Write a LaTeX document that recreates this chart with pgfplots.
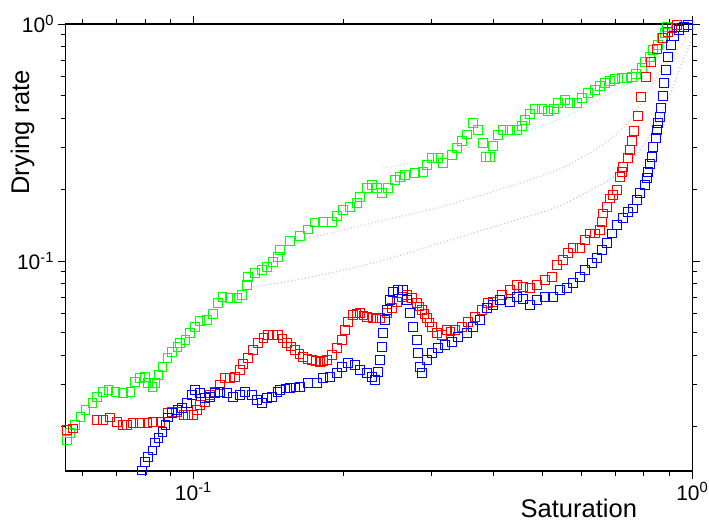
\documentclass[border=0pt]{standalone}
\usepackage{fontspec}
\setmainfont{Liberation Sans}
\usepackage{pgfplots}
\pgfplotsset{compat=1.18}
\definecolor{og}{RGB}{0,255,0}
\definecolor{orr}{RGB}{255,0,0}
\definecolor{ob}{RGB}{0,0,255}
\definecolor{lg}{RGB}{170,245,170}
\definecolor{lr}{RGB}{255,180,180}
\definecolor{lb}{RGB}{185,185,255}
\begin{document}
\begin{tikzpicture}
\useasboundingbox (0,0) rectangle (709pt,527pt);
\begin{axis}[
  at={(65.5pt,56pt)}, anchor=south west,
  scale only axis, width=626.8pt, height=447pt,
  xmode=log, ymode=log,
  xmin=0.0554, xmax=1, ymin=0.013, ymax=1,
  xtick={0.1,1}, xticklabels={10\textsuperscript{-1},10\textsuperscript{0}},
  ytick={0.1,1}, yticklabels={10\textsuperscript{-1},10\textsuperscript{0}},
  minor xtick={0.06,0.07,0.08,0.09,0.2,0.3,0.4,0.5,0.6,0.7,0.8,0.9},
  minor ytick={0.02,0.03,0.04,0.05,0.06,0.07,0.08,0.09,0.2,0.3,0.4,0.5,0.6,0.7,0.8,0.9},
  tick align=outside,
  major tick length=8pt, minor tick length=5pt,
  axis line style={line width=1.3pt},
  every tick/.style={black, line width=1pt},
  tick label style={font=\fontsize{21}{21}\selectfont},
  xlabel={Saturation}, ylabel={Drying rate},
  label style={font=\fontsize{25.5}{26}\selectfont},
  xlabel style={at={(axis description cs:0.819,-0.105)}, anchor=base},
  ylabel style={at={(axis description cs:-0.058,0.758)}, anchor=base},
  clip=true,
]
% dotted guide curves
\addplot[no marks, smooth, color=lg, line width=1.1pt, dash pattern=on 1pt off 2.5pt] coordinates {
(0.2400,0.247)(0.2940,0.267)(0.3423,0.294)(0.4253,0.334)(0.4953,0.368)(0.5767,0.421)(0.6747,0.502)(0.7856,0.598)(0.8341,0.685)(0.8616,0.740)};
\addplot[no marks, smooth, color=lr, line width=1.1pt, dash pattern=on 1pt off 2.5pt] coordinates {
(0.1713,0.125)(0.2292,0.145)(0.3122,0.169)(0.4253,0.205)(0.5357,0.242)(0.6237,0.286)(0.6936,0.334)(0.7502,0.393)(0.8114,0.511)(0.8736,0.659)(0.9581,0.831)(0.9685,0.916)};
\addplot[no marks, smooth, color=lb, line width=1.1pt, dash pattern=on 1pt off 2.5pt] coordinates {
(0.1317,0.0777)(0.1690,0.0848)(0.2292,0.0981)(0.3122,0.119)(0.4253,0.145)(0.5357,0.169)(0.6237,0.199)(0.6936,0.226)(0.7856,0.294)(0.8616,0.405)(0.9147,0.542)(0.9581,0.705)(0.9986,0.856)};
% green
\addplot[only marks, mark=square, mark size=4.2pt, color=og, line width=1pt] coordinates {
(0.0558,0.0176)(0.0566,0.0188)(0.0579,0.0203)(0.0593,0.0220)(0.0607,0.0235)(0.0627,0.0252)(0.0641,0.0267)(0.0659,0.0280)(0.0675,0.0286)(0.0697,0.0280)(0.0723,0.0277)(0.0747,0.0280)(0.0764,0.0309)(0.0782,0.0321)(0.0800,0.0324)(0.0811,0.0306)(0.0827,0.0294)(0.0838,0.0306)(0.0850,0.0330)(0.0866,0.0357)(0.0886,0.0390)(0.0906,0.0413)(0.0928,0.0434)(0.0940,0.0451)(0.0963,0.0464)(0.0985,0.0497)(0.1008,0.0527)(0.1031,0.0558)(0.1065,0.0564)(0.1095,0.0598)(0.1121,0.0665)(0.1142,0.0705)(0.1184,0.0698)(0.1223,0.0698)(0.1252,0.0719)(0.1281,0.0792)(0.1287,0.0856)(0.1329,0.0890)(0.1373,0.0916)(0.1405,0.0943)(0.1444,0.0990)(0.1478,0.1040)(0.1492,0.1113)(0.1562,0.1214)(0.1636,0.1275)(0.1698,0.136)(0.1754,0.145)(0.1820,0.146)(0.1897,0.146)(0.1941,0.155)(0.1995,0.164)(0.2061,0.169)(0.2128,0.176)(0.2158,0.186)(0.2229,0.203)(0.2281,0.209)(0.2334,0.203)(0.2389,0.194)(0.2456,0.203)(0.2536,0.220)(0.2595,0.226)(0.2656,0.231)(0.2782,0.235)(0.2886,0.237)(0.2940,0.254)(0.3009,0.272)(0.3093,0.272)(0.3165,0.259)(0.3299,0.280)(0.3377,0.300)(0.3455,0.321)(0.3536,0.341)(0.3635,0.382)(0.3720,0.357)(0.3807,0.315)(0.3860,0.275)(0.3931,0.275)(0.3986,0.306)(0.4079,0.340)(0.4174,0.357)(0.4312,0.357)(0.4453,0.357)(0.4557,0.371)(0.4620,0.393)(0.4728,0.417)(0.4839,0.438)(0.4997,0.438)(0.5137,0.430)(0.5281,0.438)(0.5380,0.464)(0.5558,0.478)(0.5687,0.464)(0.5874,0.464)(0.6012,0.487)(0.6180,0.511)(0.6383,0.527)(0.6531,0.548)(0.6684,0.564)(0.6841,0.575)(0.7000,0.586)(0.7230,0.592)(0.7398,0.592)(0.7572,0.598)(0.7713,0.615)(0.7929,0.652)(0.8040,0.691)(0.8227,0.726)(0.8341,0.777)(0.8536,0.815)(0.8695,0.873)(0.8816,0.916)(0.8898,0.971)(0.9021,1.010)};
% red
\addplot[only marks, mark=square, mark size=4.2pt, color=orr, line width=1pt] coordinates {
(0.0558,0.0194)(0.0574,0.0197)(0.0641,0.0213)(0.0659,0.0213)(0.0681,0.0218)(0.0703,0.0209)(0.0720,0.0203)(0.0736,0.0203)(0.0757,0.0207)(0.0782,0.0207)(0.0808,0.0207)(0.0830,0.0209)(0.0858,0.0209)(0.0886,0.0228)(0.0906,0.0231)(0.0928,0.0231)(0.0954,0.0224)(0.0976,0.0224)(0.0999,0.0224)(0.1017,0.0235)(0.1031,0.0247)(0.1055,0.0254)(0.1080,0.0272)(0.1105,0.0280)(0.1131,0.0300)(0.1157,0.0321)(0.1184,0.0321)(0.1212,0.0324)(0.1240,0.0347)(0.1258,0.0367)(0.1287,0.0390)(0.1317,0.0421)(0.1348,0.0451)(0.1380,0.0473)(0.1411,0.0487)(0.1444,0.0487)(0.1478,0.0487)(0.1510,0.0470)(0.1541,0.0451)(0.1570,0.0436)(0.1599,0.0421)(0.1630,0.0405)(0.1659,0.0393)(0.1695,0.0386)(0.1729,0.0382)(0.1760,0.0378)(0.1795,0.0375)(0.1825,0.0378)(0.1854,0.0382)(0.1897,0.0401)(0.1941,0.0430)(0.1986,0.0464)(0.2014,0.0511)(0.2042,0.0553)(0.2089,0.0592)(0.2120,0.0600)(0.2158,0.0603)(0.2195,0.0590)(0.2229,0.0580)(0.2292,0.0575)(0.2330,0.0573)(0.2367,0.0575)(0.2444,0.0603)(0.2501,0.0633)(0.2559,0.0671)(0.2619,0.0705)(0.2681,0.0719)(0.2743,0.0698)(0.2807,0.0665)(0.2840,0.0643)(0.2873,0.0621)(0.2905,0.0598)(0.2940,0.0575)(0.2975,0.0550)(0.3009,0.0527)(0.3079,0.0497)(0.3151,0.0487)(0.3224,0.0511)(0.3280,0.0505)(0.3345,0.0511)(0.3455,0.0527)(0.3552,0.0553)(0.3668,0.0580)(0.3789,0.0621)(0.3895,0.0665)(0.3986,0.0671)(0.4155,0.0719)(0.4312,0.0754)(0.4453,0.0792)(0.4580,0.0777)(0.4728,0.0769)(0.4884,0.0792)(0.5068,0.0832)(0.5235,0.0856)(0.5357,0.0962)(0.5507,0.1010)(0.5636,0.1081)(0.5767,0.1135)(0.5956,0.1135)(0.6095,0.1227)(0.6237,0.131)(0.6383,0.131)(0.6531,0.135)(0.6592,0.146)(0.6622,0.159)(0.6747,0.169)(0.6841,0.184)(0.6936,0.190)(0.7065,0.199)(0.7163,0.226)(0.7230,0.237)(0.7264,0.249)(0.7433,0.272)(0.7502,0.294)(0.7572,0.321)(0.7642,0.354)(0.7784,0.409)(0.7893,0.492)(0.8076,0.598)(0.8265,0.691)(0.8498,0.784)(0.8736,0.873)(0.8941,0.925)(0.9107,0.962)(0.9318,0.990)};
% blue
\addplot[only marks, mark=square, mark size=4.2pt, color=ob, line width=1pt] coordinates {
(0.0789,0.0131)(0.0800,0.0142)(0.0811,0.0149)(0.0827,0.0159)(0.0838,0.0171)(0.0850,0.0179)(0.0866,0.0190)(0.0878,0.0203)(0.0890,0.0218)(0.0906,0.0228)(0.0928,0.0235)(0.0949,0.0240)(0.0971,0.0252)(0.0994,0.0272)(0.1008,0.0286)(0.1031,0.0277)(0.1055,0.0264)(0.1080,0.0267)(0.1105,0.0277)(0.1131,0.0280)(0.1168,0.0277)(0.1201,0.0267)(0.1240,0.0272)(0.1269,0.0280)(0.1311,0.0272)(0.1342,0.0259)(0.1373,0.0252)(0.1405,0.0264)(0.1438,0.0267)(0.1472,0.0280)(0.1492,0.0286)(0.1530,0.0289)(0.1562,0.0291)(0.1600,0.0292)(0.1636,0.0294)(0.1698,0.0306)(0.1770,0.0306)(0.1820,0.0321)(0.1879,0.0324)(0.1941,0.0337)(0.1986,0.0357)(0.2042,0.0371)(0.2109,0.0364)(0.2158,0.0347)(0.2229,0.0337)(0.2281,0.0324)(0.2312,0.0315)(0.2345,0.0340)(0.2367,0.0382)(0.2389,0.0434)(0.2400,0.0497)(0.2422,0.0564)(0.2444,0.0621)(0.2478,0.0685)(0.2513,0.0740)(0.2572,0.0754)(0.2632,0.0754)(0.2681,0.0685)(0.2718,0.0603)(0.2756,0.0527)(0.2807,0.0464)(0.2820,0.0409)(0.2847,0.0357)(0.2873,0.0337)(0.2940,0.0382)(0.3009,0.0409)(0.3093,0.0430)(0.3195,0.0442)(0.3299,0.0455)(0.3392,0.0478)(0.3536,0.0497)(0.3635,0.0527)(0.3754,0.0564)(0.3877,0.0633)(0.3986,0.0652)(0.4117,0.0685)(0.4312,0.0671)(0.4453,0.0705)(0.4580,0.0691)(0.4728,0.0652)(0.4884,0.0685)(0.5068,0.0705)(0.5259,0.0705)(0.5431,0.0754)(0.5610,0.0769)(0.5767,0.0808)(0.5956,0.0856)(0.6095,0.0916)(0.6295,0.0981)(0.6442,0.1030)(0.6592,0.1113)(0.6747,0.119)(0.6904,0.131)(0.7065,0.142)(0.7264,0.152)(0.7433,0.161)(0.7607,0.167)(0.7749,0.181)(0.7856,0.194)(0.8040,0.209)(0.8114,0.224)(0.8152,0.237)(0.8227,0.257)(0.8303,0.275)(0.8341,0.303)(0.8457,0.330)(0.8498,0.357)(0.8536,0.382)(0.8616,0.405)(0.8656,0.442)(0.8736,0.497)(0.8776,0.564)(0.8858,0.640)(0.8941,0.726)(0.9064,0.815)(0.9190,0.890)(0.9404,0.943)(0.9625,0.971)(0.9804,0.990)};
\end{axis}
\end{tikzpicture}
\end{document}
